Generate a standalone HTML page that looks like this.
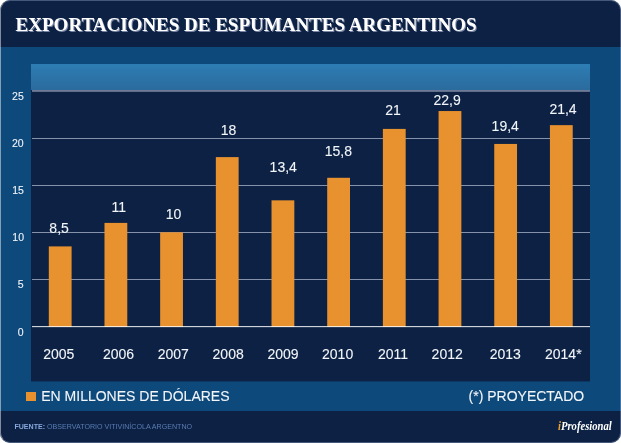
<!DOCTYPE html>
<html lang="es">
<head>
<meta charset="utf-8">
<title>Exportaciones de espumantes argentinos</title>
<style>
html,body{margin:0;padding:0;background:#fff;}
body{width:621px;height:443px;overflow:hidden;position:relative;font-family:"Liberation Sans",Arial,sans-serif;}
#card{position:absolute;left:0;top:0;width:621px;height:443px;background:#0c2143;border-radius:10px;overflow:hidden;}
#edge{position:absolute;left:0;top:0;right:0;bottom:0;border:1px solid rgba(200,215,255,.3);border-left-color:rgba(255,255,255,.48);border-radius:10px;pointer-events:none;}
.t{position:absolute;margin:0;white-space:nowrap;line-height:1;}
#title{font-family:"Liberation Serif","Times New Roman",serif;font-weight:bold;font-size:19px;color:#fff;text-shadow:1px 1px 0 rgba(150,160,190,.8);}
#panel{position:absolute;left:0;top:47px;width:621px;height:364px;background:#0d497b;}
#plot{position:absolute;left:31px;top:64px;width:559px;height:317px;background:#0c2143;box-shadow:0 1px 0 rgba(12,33,67,.45);}
#band{position:absolute;left:0;top:0;width:100%;height:26px;background:linear-gradient(#2d7db4,#2b6b9d);}
#band:after{content:'';position:absolute;left:1px;right:0;top:26px;height:2px;background:linear-gradient(#75809d,#5b6786);}
.grid{position:absolute;left:32px;width:558px;height:1px;background:#8492ab;}
#base{position:absolute;left:32px;width:558px;top:326px;height:1px;background:rgba(255,255,255,.8);box-shadow:0 1px 0 rgba(255,255,255,.12);}
#bars{position:absolute;left:0;top:0;}
.val,.yr{color:#f2f5f9;font-size:14px;-webkit-text-stroke:0.1px #f2f5f9;}
.yl{color:#f2f5f9;font-size:10.5px;-webkit-text-stroke:0.1px #f2f5f9;}
#legend,#proj{color:#f2f5f9;font-size:14px;-webkit-text-stroke:0.1px #f2f5f9;}
#sq{position:absolute;left:26.4px;top:392px;width:9.6px;height:9.4px;background:#e8912f;}
#src{color:#5a7db5;font-size:7.1px;}
#src b{color:#86a8dc;}
#logo{font-family:"Liberation Serif",serif;font-style:italic;font-weight:bold;font-size:12px;color:#fff;transform-origin:0 0;transform:scaleX(0.885);}
#logo span{color:#f0a030;}
</style>
</head>
<body>
<div id="card">
<h1 id="title" class="t" style="left:15.62px;top:15.00px">EXPORTACIONES DE ESPUMANTES ARGENTINOS</h1>
<div id="panel"></div>
<div id="plot"><div id="band"></div></div>
<div class="grid" style="top:138px"></div>
<div class="grid" style="top:185px"></div>
<div class="grid" style="top:232px"></div>
<div class="grid" style="top:279px"></div>
<svg id="bars" width="621" height="443" viewBox="0 0 621 443">
<rect x="48.80" y="246.40" width="22.8" height="80.60" fill="#e8912f"/>
<rect x="104.48" y="222.90" width="22.8" height="104.10" fill="#e8912f"/>
<rect x="160.16" y="232.30" width="22.8" height="94.70" fill="#e8912f"/>
<rect x="215.84" y="157.10" width="22.8" height="169.90" fill="#e8912f"/>
<rect x="271.52" y="200.34" width="22.8" height="126.66" fill="#e8912f"/>
<rect x="327.20" y="177.78" width="22.8" height="149.22" fill="#e8912f"/>
<rect x="382.88" y="128.90" width="22.8" height="198.10" fill="#e8912f"/>
<rect x="438.56" y="111.04" width="22.8" height="215.96" fill="#e8912f"/>
<rect x="494.24" y="143.94" width="22.8" height="183.06" fill="#e8912f"/>
<rect x="549.92" y="125.14" width="22.8" height="201.86" fill="#e8912f"/>
</svg>
<div id="base"></div>
<div id="yl25" class="t yl" style="left:12.08px;top:91.00px">25</div>
<div id="yl20" class="t yl" style="left:12.02px;top:138.00px">20</div>
<div id="yl15" class="t yl" style="left:12.18px;top:185.00px">15</div>
<div id="yl10" class="t yl" style="left:12.34px;top:232.00px">10</div>
<div id="yl5" class="t yl" style="left:17.69px;top:279.00px">5</div>
<div id="yl0" class="t yl" style="left:17.80px;top:327.00px">0</div>
<div id="val0" class="t val" style="left:49.36px;top:221.00px">8,5</div>
<div id="val1" class="t val" style="left:111.46px;top:200.00px">11</div>
<div id="val2" class="t val" style="left:165.84px;top:207.00px">10</div>
<div id="val3" class="t val" style="left:220.78px;top:123.00px">18</div>
<div id="val4" class="t val" style="left:269.60px;top:160.00px">13,4</div>
<div id="val5" class="t val" style="left:324.68px;top:144.00px">15,8</div>
<div id="val6" class="t val" style="left:385.24px;top:103.00px">21</div>
<div id="val7" class="t val" style="left:433.45px;top:93.00px">22,9</div>
<div id="val8" class="t val" style="left:491.60px;top:119.00px">19,4</div>
<div id="val9" class="t val" style="left:549.40px;top:102.00px">21,4</div>
<div id="yr0" class="t yr" style="left:43.17px;top:347.00px">2005</div>
<div id="yr1" class="t yr" style="left:102.98px;top:347.00px">2006</div>
<div id="yr2" class="t yr" style="left:157.66px;top:347.00px">2007</div>
<div id="yr3" class="t yr" style="left:212.59px;top:347.00px">2008</div>
<div id="yr4" class="t yr" style="left:267.39px;top:347.00px">2009</div>
<div id="yr5" class="t yr" style="left:322.05px;top:347.00px">2010</div>
<div id="yr6" class="t yr" style="left:377.90px;top:347.00px">2011</div>
<div id="yr7" class="t yr" style="left:431.61px;top:347.00px">2012</div>
<div id="yr8" class="t yr" style="left:489.63px;top:347.00px">2013</div>
<div id="yr9" class="t yr" style="left:545.00px;top:347.00px">2014*</div>
<div id="sq"></div>
<div id="legend" class="t" style="left:41.26px;top:389.00px">EN MILLONES DE DÓLARES</div>
<div id="proj" class="t" style="left:468.55px;top:389.00px">(*) PROYECTADO</div>
<div id="src" class="t" style="left:14.38px;top:424.00px"><b>FUENTE:</b> OBSERVATORIO VITIVINÍCOLA ARGENTNO</div>
<div id="logo" class="t" style="left:558.36px;top:420.00px"><span>i</span>Profesional</div>
<div id="edge"></div>
</div>
</body>
</html>
